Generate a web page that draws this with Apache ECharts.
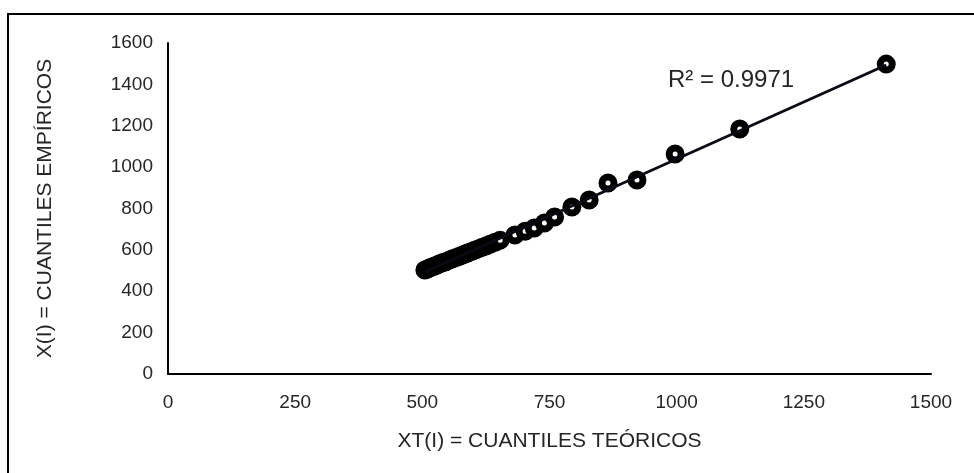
<!DOCTYPE html>
<html>
<head>
<meta charset="utf-8">
<script src="https://cdn.jsdelivr.net/npm/echarts@6/dist/echarts.min.js"></script>
<style>
html,body{margin:0;padding:0;background:#fff;}
#chart{width:974px;height:473px;}
</style>
</head>
<body>
<div id="chart"></div>
<script>
// Theoretical quantiles XT(I)
var xTeoricos = [505, 510, 514, 519, 523, 528, 532, 537, 541, 546, 551, 556, 561, 567, 572, 578, 584, 590, 597, 604, 611, 618, 626, 634, 643, 653, 682, 702, 720, 740, 760, 794, 828, 865, 922, 997, 1124, 1412];
// Empirical quantiles X(I)
var xEmpiricos = [503, 508, 512, 517, 521, 526, 530, 535, 539, 543, 548, 553, 558, 563, 568, 574, 580, 586, 592, 599, 606, 613, 620, 628, 637, 647, 672, 690, 706, 730, 759, 807, 841, 923, 938, 1063, 1184, 1498];
var xTicks = [0, 250, 500, 750, 1000, 1250, 1500];
var yTicks = [0, 200, 400, 600, 800, 1000, 1200, 1400, 1600];
var r2Text = 'R² = 0.9971';
var xTitle = 'XT(I) = CUANTILES TEÓRICOS';
var yTitle = 'X(I) = CUANTILES EMPÍRICOS';

var points = xTeoricos.map(function(x, i){ return [x, xEmpiricos[i]]; });
// least squares trendline
var n = points.length, sx = 0, sy = 0, sxx = 0, sxy = 0;
points.forEach(function(p){ sx += p[0]; sy += p[1]; sxx += p[0]*p[0]; sxy += p[0]*p[1]; });
var slope = (n*sxy - sx*sy) / (n*sxx - sx*sx);
var icpt = (sy - slope*sx) / n;
var xmin = Math.min.apply(null, xTeoricos), xmax = Math.max.apply(null, xTeoricos);
var trend = [[xmin, slope*xmin + icpt], [xmax, slope*xmax + icpt]];

var font = 'Liberation Sans, Arial, sans-serif';
var txtColor = '#262626';
var chart = echarts.init(document.getElementById('chart'), null, {renderer: 'canvas'});
chart.setOption({
  animation: false,
  backgroundColor: '#fff',
  grid: {left: 168, right: 43, top: 43, bottom: 99},
  xAxis: {
    type: 'value', min: xTicks[0], max: xTicks[xTicks.length-1], interval: 250,
    name: xTitle, nameLocation: 'middle', nameGap: 57,
    nameTextStyle: {fontFamily: font, fontSize: 21, color: txtColor},
    axisLine: {show: true, onZero: false, lineStyle: {color: '#000', width: 2}},
    axisTick: {show: false},
    splitLine: {show: false},
    axisLabel: {fontFamily: font, fontSize: 19, color: txtColor, margin: 19, formatter: function(v){ return String(v); }}
  },
  yAxis: {
    type: 'value', min: yTicks[0], max: yTicks[yTicks.length-1], interval: 200,
    name: yTitle, nameLocation: 'middle', nameGap: 112, nameRotate: 90,
    nameTextStyle: {fontFamily: font, fontSize: 21, color: txtColor},
    axisLine: {show: true, onZero: false, lineStyle: {color: '#000', width: 2}},
    axisTick: {show: false},
    splitLine: {show: false},
    axisLabel: {fontFamily: font, fontSize: 19, color: txtColor, margin: 15, formatter: function(v){ return String(v); }}
  },
  series: [
    {
      type: 'scatter', data: points, symbol: 'circle', symbolSize: 12,
      itemStyle: {color: '#fff', borderColor: '#000', borderWidth: 7, opacity: 1},
      z: 2
    },
    {
      type: 'line', data: trend, symbol: 'none',
      lineStyle: {color: '#0a0a14', width: 2.8},
      z: 3
    }
  ],
  graphic: [
    {type: 'rect', shape: {x: 8, y: 14, width: 1000, height: 500}, style: {fill: 'none', stroke: '#000', lineWidth: 2}, z: 10},
    {type: 'text', x: 668, y: 80, style: {text: r2Text, font: '24px ' + font, fill: txtColor, textVerticalAlign: 'middle'}, z: 10}
  ]
});
</script>
</body>
</html>
